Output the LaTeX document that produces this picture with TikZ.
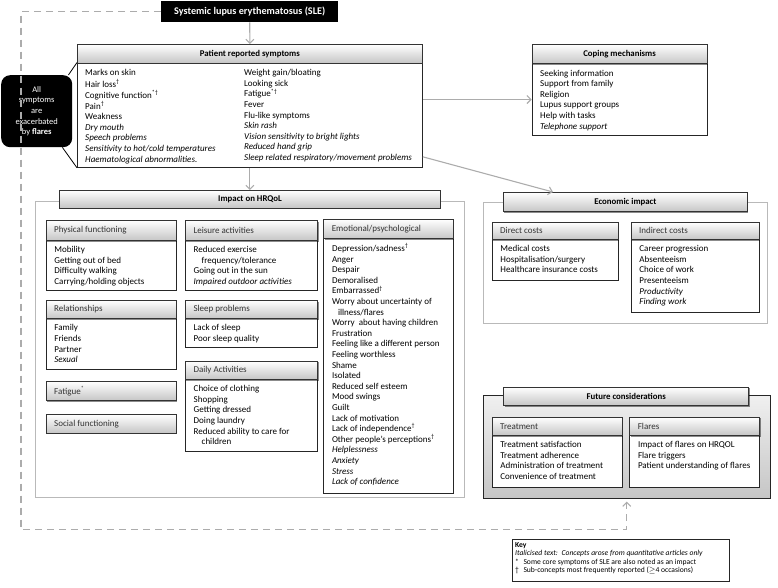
\documentclass[tikz,border=0pt]{standalone}
\usepackage{fontspec}
\setmainfont{Carlito}
\usetikzlibrary{arrows.meta,shadows,calc}
\newcommand{\mydg}{\textsuperscript{†}}
\newcommand{\myas}{\textsuperscript{*}}
\newcommand{\myasdg}{\textsuperscript{*†}}
% name, x1, yTop, x2, yHeaderBottom, yBottom, title, items
\newcommand{\mksub}[8]{%
  \node[bodybox, minimum width={#4-#2}, minimum height={#6-#5}] (#1B) at (#2,#5) {};
  \node[hdrbase, minimum width={#4-#2}, minimum height={#5-#3}] (#1H) at (#2,#3) {};
  \node[subttl] (#1T) at ($(#1H.west)+(8.3,0)$) {#7};
  \node[lst] (#1L) at (#2+8.5,#5+5) {#8};
}
\begin{document}
\begin{tikzpicture}[x=1pt,y=-1pt,
  every node/.style={inner sep=0pt},
  hdrbase/.style={draw=black!80, line width=0.8pt, top color=white, bottom color=gray!45, anchor=north west, drop shadow={shadow xshift=1pt, shadow yshift=-1.3pt, fill=black, opacity=0.45}},
  bodybox/.style={draw=black!85, line width=0.8pt, fill=white, anchor=north west},
  outerbox/.style={draw=gray!55, line width=1.3pt, fill=white, anchor=north west},
  ttl/.style={font=\fontsize{8.8}{10}\selectfont\bfseries},
  subttl/.style={font=\fontsize{9}{10}\selectfont, text=black!80, anchor=west},
  lst/.style={font=\fontsize{9}{10.6}\selectfont, align=left, anchor=north west},
  arr/.style={draw=gray!65, line width=1.1pt, -{Straight Barb[length=4pt,width=8pt]}},
  dsh/.style={draw=gray!65, line width=1.2pt, dash pattern=on 7pt off 5pt}
]
\useasboundingbox (0,0) rectangle (778,587);

% SLE
\node[fill=black, anchor=north west, minimum width=177, minimum height=21, text=white, font=\fontsize{10.2}{11}\selectfont\bfseries] (sle) at (161,1) {Systemic lupus erythematosus (SLE)};

% Patient reported symptoms
\node[bodybox, minimum width=345, minimum height=104.5] (symB) at (77,62.5) {};
\node[hdrbase, ttl, minimum width=345, minimum height=18.5] (symH) at (77,44) {Patient reported symptoms};
\node[lst] (symL) at (85,68) {\strut Marks on skin\\Hair loss\mydg\\Cognitive function\myasdg\\Pain\mydg\\Weakness\\\textit{Dry mouth}\\\textit{Speech problems}\\\textit{Sensitivity to hot/cold temperatures}\\\textit{Haematological abnormalities.}};
\node[lst] (symR) at (244,68) {\strut Weight gain/bloating\\Looking sick\\Fatigue\myasdg\\Fever\\Flu-like symptoms\\\textit{Skin rash}\\\textit{Vision sensitivity to bright lights}\\\textit{Reduced hand grip}\\\textit{Sleep related respiratory/movement problems}};

% flares box
\node[fill=black, rounded corners=9pt, anchor=north west, minimum width=71, minimum height=72, text=white, align=center, font=\fontsize{8.5}{10.7}\selectfont] (flare) at (1,75) {All\\symptoms\\are\\exacerbated\\by \textbf{flares}};
\draw[black, line width=0.8pt] ([xshift=-4pt]flare.north east) -- (symB.north west);
\draw[black, line width=0.8pt] ([xshift=-10pt]flare.south east) -- (symB.south west);

% Coping
\node[bodybox, minimum width=175, minimum height=71.7] (copB) at (531.7,63.3) {};
\node[hdrbase, ttl, minimum width=175, minimum height=19.3] (copH) at (531.7,44) {Coping mechanisms};
\node[lst] (copL) at (540,68.5) {\strut Seeking information\\Support from family\\Religion\\Lupus support groups\\Help with tasks\\\textit{Telephone support}};

% Impact on HRQoL
\node[outerbox, minimum width=429, minimum height=296] (impO) at (35,200.7) {};
\node[hdrbase, ttl, minimum width=380.7, minimum height=17.5] (impH) at (59.3,190) {Impact on HRQoL};
\mksub{phy}{45.7}{220}{176}{240}{290}{Physical functioning}{\strut Mobility\\Getting out of bed\\Difficulty walking\\Carrying/holding objects}
\mksub{lei}{185}{220}{317.3}{240}{290}{Leisure activities}{\strut Reduced exercise\\\hspace*{8pt}frequency/tolerance\\Going out in the sun\\\textit{Impaired outdoor activities}}
\mksub{rel}{45.7}{300}{176}{318.3}{369.3}{Relationships}{\strut Family\\Friends\\Partner\\\textit{Sexual}}
\mksub{slp}{185}{300}{317.3}{318.3}{347.3}{Sleep problems}{\strut Lack of sleep\\Poor sleep quality}
\mksub{day}{185}{360.7}{317.3}{379}{451}{Daily Activities}{\strut Choice of clothing\\Shopping\\Getting dressed\\Doing laundry\\Reduced ability to care for\\\hspace*{8pt}children}
\mksub{emo}{323.3}{219}{452.7}{238.3}{492.5}{Emotional/psychological}{\strut Depression/sadness\mydg\\Anger\\Despair\\Demoralised\\Embarrassed\mydg\\Worry about uncertainty of\\\hspace*{6pt}illness/flares\\Worry\ \ about having children\\Frustration\\Feeling like a different person\\Feeling worthless\\Shame\\Isolated\\Reduced self esteem\\Mood swings\\Guilt\\Lack of motivation\\Lack of independence\mydg\\Other people's perceptions\mydg\\\textit{Helplessness}\\\textit{Anxiety}\\\textit{Stress}\\\textit{Lack of confidence}}
\node[hdrbase, minimum width=130.3, minimum height=19] (fat) at (45.7,381) {};
\node[subttl] (fatT) at ($(fat.west)+(8.3,0)$) {Fatigue\myas};
\node[hdrbase, minimum width=130.3, minimum height=18.7] (soc) at (45.7,414) {};
\node[subttl] (socT) at ($(soc.west)+(8.3,0)$) {Social functioning};

% Economic impact
\node[outerbox, minimum width=284.3, minimum height=121.3] (ecoO) at (482.7,201.7) {};
\node[hdrbase, ttl, minimum width=244, minimum height=19] (ecoH) at (503,192) {Economic impact};
\mksub{dir}{491.7}{222}{618}{239}{280}{Direct costs}{\strut Medical costs\\Hospitalisation/surgery\\Healthcare insurance costs}
\mksub{ind}{630.7}{222}{759}{239}{311.7}{Indirect costs}{\strut Career progression\\Absenteeism\\Choice of work\\Presenteeism\\\textit{Productivity}\\\textit{Finding work}}

% Future considerations
\node[hdrbase, draw=black!85, top color=gray!12, bottom color=gray!45, minimum width=287.3, minimum height=102.7] (futO) at (482.7,395) {};
\node[hdrbase, ttl, minimum width=245, minimum height=18.3] (futH) at (503.3,386.7) {Future considerations};
\mksub{tr}{491.7}{416.7}{621.7}{435}{486.7}{Treatment}{\strut Treatment satisfaction\\Treatment adherence\\Administration of treatment\\Convenience of treatment}
\mksub{fl}{629.3}{416.7}{759.3}{435}{486.7}{Flares}{\strut Impact of flares on HRQOL\\Flare triggers\\Patient understanding of flares}

% Key
\node[bodybox, minimum width=217.6, minimum height=42] (key) at (511.7,538.5) {};
\node[anchor=north west, align=left, font=\fontsize{7.6}{8.6}\selectfont] (keyT) at (515,541.5) {\rule{0pt}{5.4pt}\textbf{Key}\\\textit{Italicised text:\enspace Concepts arose from quantitative articles only}\\\makebox[8.3pt][l]{*}Some core symptoms of SLE are also noted as an impact\\\makebox[8.3pt][l]{†}Sub-concepts most frequently reported ($\geq$4 occasions)};

% connectors
\draw[arr] (sle.south) -- (symH.north);
\draw[arr] (symB.south) -- (symB.south |- impH.north);
\draw[arr] (symB.east |- copB.west) -- (copB.west);
\draw[arr] ([yshift=11pt]symB.south east) -- ([xshift=50pt]ecoH.north west);
\coordinate (dBL) at (21,529.3);
\draw[dsh, -{Straight Barb[length=4pt,width=8pt]}] (sle.west) -| (dBL) -| ([yshift=-3pt]futO.south);
\end{tikzpicture}
\end{document}
